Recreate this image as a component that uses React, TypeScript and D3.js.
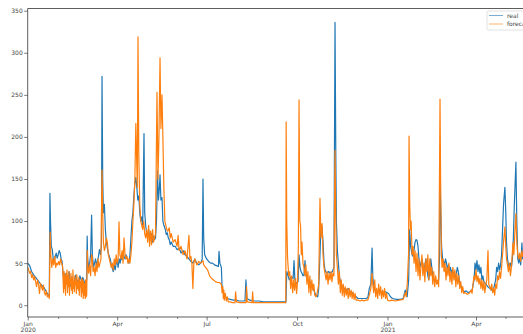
import { useEffect, useRef } from 'react';
import * as d3 from 'd3';

// day offset from 2020-01-01, value
const realSeries: [number, number][] = [
  [0, 50], [2, 47], [4, 40], [6, 36], [8, 33], [10, 30], [12, 27], [14, 24], [16, 22], [18, 18], [20, 14], [21.5, 11], [22, 12],
  [22.6, 133], [23.2, 100], [24, 70], [25, 66], [26, 55], [27, 52], [28, 58], [29, 62], [30, 56], [31, 60], [32, 65], [33, 62],
  [34, 55], [35, 52], [36, 36], [37, 30], [38, 38], [39, 28], [40, 35], [41, 25], [42, 40], [43, 30], [44, 22], [45, 34],
  [46, 28], [47, 20], [48, 32], [49, 36], [50, 26], [51, 30], [52, 22], [53, 35], [54, 32], [55, 28], [56, 33], [57, 30],
  [58, 26], [59, 28], [60, 30], [60.5, 82], [61, 55], [62, 45], [63, 50], [64, 60], [65, 107], [65.8, 60], [67, 45], [68, 50],
  [69, 55], [70, 48], [71, 52], [72, 58], [73, 66], [74, 60], [75, 70], [75.6, 272], [76.3, 150], [77, 110], [78, 120],
  [79, 90], [80, 75], [81, 68], [82, 62], [83, 58], [84, 55], [85, 48], [86, 44], [87, 40], [88, 48], [89, 42], [90, 50],
  [91, 52], [92, 45], [93, 55], [94, 50], [95, 58], [96, 54], [97, 62], [98, 58], [99, 55], [100, 60], [101, 56], [102, 52],
  [103, 50], [104, 60], [105, 80], [106, 100], [107, 110], [108, 130], [109, 145], [110, 152], [111, 140], [112, 125],
  [113, 130], [114, 110], [115, 100], [116, 105], [117, 95], [118.3, 204], [119, 110], [120, 95], [121, 85], [122, 82],
  [123, 90], [124, 80], [125, 78], [126, 85], [127, 75], [128, 82], [129, 78], [130, 80], [131, 100], [132, 160], [133, 125],
  [134, 140], [134.6, 155], [135.5, 125], [136.6, 128], [137.5, 100], [138.5, 95], [140, 90], [141, 84], [142, 86], [143, 80],
  [144, 78], [145, 72], [146, 75], [148, 70], [150, 70], [152, 66], [154, 68], [156, 62], [158, 65], [160, 60], [162, 58],
  [164, 55], [166, 52], [168, 50], [170, 55], [172, 50], [174, 48], [176, 50], [177.5, 55], [178.3, 150], [179, 80], [180, 60],
  [182, 55], [184, 52], [186, 50], [188, 50], [190, 48], [192, 47], [194, 46], [194.6, 64], [195.5, 50], [197, 45], [197.7, 22],
  [199, 15], [201, 10], [203, 8], [206, 7], [209, 6], [212, 6], [215, 5], [218, 5], [221, 5], [222, 30], [223, 8], [226, 6],
  [230, 5], [235, 5], [240, 4], [245, 4], [250, 4], [255, 4], [260, 4], [262.7, 4], [263.5, 40], [265, 35], [266, 30],
  [268, 34], [270, 32], [270.9, 53], [271.8, 30], [273, 26], [275, 28], [276, 60], [277, 45], [278, 40], [279, 38], [280, 35],
  [281, 36], [282.1, 53], [283, 35], [285, 30], [287, 28], [289, 25], [291, 18], [293, 12], [295, 10], [296, 20], [297.3, 60],
  [298.3, 96], [299.4, 93], [300.4, 75], [301.4, 50], [302.4, 42], [304, 38], [306, 40], [308, 38], [310, 40], [311.5, 45],
  [312.6, 336], [313.4, 180], [314, 100], [315, 65], [316, 50], [317, 35], [318, 28], [320, 22], [322, 20], [324, 18],
  [326, 20], [328, 16], [330, 15], [332, 12], [334, 10], [336, 8], [338, 8], [340, 8], [342, 8], [344, 8], [346, 9],
  [347.5, 20], [349, 25], [350.3, 68], [351, 35], [352, 20], [355, 16], [358, 17], [361, 15], [364, 16], [367, 14], [369, 10],
  [371, 8], [375, 7], [379, 7], [382, 8], [384, 18], [386, 10], [387.5, 30], [388.5, 90], [389.5, 70], [391, 60], [392, 58],
  [393, 66], [394, 75], [395, 78], [396, 77], [397, 70], [398, 55], [399, 45], [400, 50], [401, 55], [402, 45], [403, 40],
  [404, 48], [405, 55], [406, 45], [407, 35], [408, 30], [409, 40], [410, 55], [411, 45], [412, 35], [413, 30], [414, 28],
  [415, 30], [416, 28], [417, 26], [418, 30], [419, 60], [419.4, 150], [420, 120], [421, 70], [422, 55], [423, 52], [424, 48],
  [425, 55], [426, 50], [427, 42], [428, 48], [429, 40], [430, 45], [431, 38], [432, 42], [433, 35], [434, 40], [435, 30],
  [436, 38], [437, 45], [438, 40], [439, 30], [440, 25], [441, 22], [442, 18], [444, 16], [446, 17], [448, 15], [450, 16],
  [452, 18], [454, 30], [455, 50], [456, 42], [457, 53], [458, 40], [459, 48], [460, 38], [461, 45], [462, 30], [463, 35],
  [464, 28], [466, 25], [468, 22], [470, 20], [472, 18], [474, 20], [476, 30], [477, 45], [478, 40], [479, 50], [480, 42],
  [481, 48], [482, 60], [483, 90], [484, 120], [485.4, 140], [486.3, 110], [487, 75], [488, 55], [489, 48], [490, 45],
  [491, 50], [492, 45], [493, 55], [494, 80], [495, 120], [496.6, 170], [497.5, 100], [498.5, 55], [499.5, 50], [500.5, 58],
  [501.5, 48], [502.7, 74], [503.5, 55], [505, 60], [507, 55],
];

const forecastSeries: [number, number][] = [
  [0, 45], [1, 42], [2, 38], [3, 40], [4, 33], [5, 36], [6, 30], [7, 34], [8, 28], [9, 22], [10, 30], [11, 25], [12, 14],
  [13, 26], [14, 22], [15, 18], [16, 24], [17, 15], [18, 12], [19, 17], [20, 10], [21, 12], [22, 8], [22.8, 87], [23.5, 60],
  [24.5, 45], [25.5, 55], [26.5, 48], [27.5, 58], [28.5, 45], [29.5, 50], [30.5, 48], [31.5, 52], [32.5, 48], [33.5, 55],
  [34.5, 50], [35.5, 46], [36, 30], [36.5, 15], [37, 40], [37.5, 20], [38, 35], [38.5, 12], [39, 38], [39.5, 25], [40, 42],
  [40.5, 15], [41, 35], [41.5, 22], [42, 40], [42.5, 12], [43, 30], [43.5, 25], [44, 38], [44.5, 18], [45, 32], [45.5, 14],
  [46, 42], [46.5, 20], [47, 28], [47.5, 16], [48, 35], [48.5, 24], [49, 30], [49.5, 14], [50, 36], [50.5, 20], [51, 28],
  [51.5, 18], [52, 33], [52.5, 12], [53, 30], [53.5, 22], [54, 28], [54.5, 10], [55, 32], [55.5, 15], [56, 30], [56.5, 8],
  [57, 28], [57.5, 12], [58, 25], [58.5, 8], [59, 30], [59.5, 10], [60, 12], [60.6, 65], [61.2, 45], [62, 38], [63, 48],
  [64, 35], [65, 60], [65.6, 58], [66.5, 40], [67.5, 45], [68.5, 35], [69.5, 50], [70.5, 40], [71.5, 55], [72.5, 45],
  [73.5, 50], [74.5, 55], [75.6, 161], [76.3, 110], [77, 75], [78, 65], [79, 70], [80, 80], [81, 75], [82, 60], [83, 55],
  [84, 50], [85, 45], [86, 50], [87, 42], [88, 55], [89, 48], [90, 60], [91, 50], [92, 55], [92.9, 99], [93.8, 60], [95, 55],
  [96, 65], [97, 50], [98, 80], [99, 60], [100, 55], [101, 58], [102, 50], [103, 55], [104, 50], [105, 60], [106, 75],
  [107, 100], [108, 120], [109, 150], [110, 216], [110.7, 180], [111.5, 140], [112.2, 319], [113, 180], [114, 120], [115, 100],
  [116, 95], [117, 90], [118, 100], [119, 85], [120, 80], [121, 90], [122, 75], [123, 95], [124, 70], [125, 88], [126, 72],
  [127, 90], [128, 75], [129, 80], [130, 85], [131.5, 253], [132.5, 150], [133.5, 200], [134.6, 294], [135.5, 210],
  [136.6, 250], [137.5, 200], [138.5, 140], [139.5, 100], [140.5, 95], [141.5, 90], [142.5, 88], [144, 92], [145, 80],
  [146, 85], [148, 75], [150, 78], [152, 70], [153, 83], [154, 65], [156, 70], [158, 60], [160, 65], [162, 55], [164, 83],
  [165, 55], [166, 58], [167, 50], [168, 20], [169, 50], [170, 55], [172, 48], [174, 52], [176, 50], [178.3, 53], [179, 48],
  [181, 45], [183, 42], [185, 35], [187, 32], [189, 30], [191, 28], [193, 27], [195, 27], [197, 25], [197.7, 15], [198.5, 22],
  [199, 8], [199.5, 18], [200, 6], [201, 14], [202, 5], [203, 10], [204, 4], [206, 4], [208, 3], [210.8, 3], [211.5, 16],
  [212.3, 4], [216, 3], [220, 3], [222, 3], [222.6, 22], [223.3, 4], [228.2, 3], [228.8, 16], [229.5, 3], [235, 3], [240, 3],
  [245, 3], [250, 3], [255, 3], [260, 3], [262.5, 3], [262.9, 218], [263.5, 100], [264.3, 57], [265.5, 35], [266.5, 40],
  [267.5, 20], [268.5, 35], [269.5, 15], [270.5, 30], [271.5, 18], [272.5, 32], [273.5, 14], [274.5, 28], [275.3, 70],
  [276, 244], [276.8, 100], [277.5, 95], [278.3, 60], [279, 75], [280, 50], [281, 45], [282, 35], [283, 48], [284, 25],
  [285, 40], [286, 15], [287, 35], [288, 12], [289, 30], [290, 18], [291, 25], [292, 12], [293, 10], [294, 12], [295, 18],
  [296, 25], [297.3, 127], [298.3, 80], [299.4, 97], [300.4, 60], [301.4, 45], [302.4, 38], [303.5, 30], [304.5, 40],
  [305.5, 25], [306.5, 38], [307.5, 30], [308.5, 40], [309.5, 28], [310.5, 38], [311.5, 35], [312.6, 184], [313.4, 100],
  [314, 60], [315, 45], [316, 25], [317, 40], [318, 15], [319, 30], [320, 12], [321, 25], [322, 10], [323, 22], [324, 12],
  [325, 20], [326, 8], [327, 20], [328, 10], [329, 18], [330, 8], [331, 16], [332, 7], [333, 14], [334, 6], [336, 6], [338, 5],
  [340, 6], [342, 5], [344, 6], [346, 6], [347.5, 12], [349, 20], [350.3, 38], [351, 25], [352, 15], [353, 30], [354, 10],
  [355, 20], [356, 8], [357, 25], [358, 12], [359, 22], [360, 8], [361, 18], [362, 10], [363, 20], [364, 8], [365, 14], [366, 6],
  [368, 5], [370, 6], [374, 5], [378, 6], [382, 7], [384, 15], [385, 10], [386, 25], [387.4, 60], [387.9, 201], [388.6, 120],
  [389.3, 90], [390, 100], [391, 60], [392, 70], [393, 50], [394, 65], [395, 40], [396, 62], [397, 35], [398, 55], [399, 30],
  [400, 45], [401, 60], [402, 35], [403, 50], [404, 28], [405, 55], [406, 40], [407, 60], [408, 30], [409, 55], [410, 35],
  [411, 45], [412, 25], [413, 40], [414, 22], [415, 35], [416, 25], [417, 30], [418, 22], [418.9, 160], [419.4, 245],
  [420, 150], [420.8, 60], [421.5, 45], [422.5, 55], [423.5, 40], [424.5, 50], [425.5, 30], [426.5, 45], [427.5, 35],
  [428.5, 50], [429.5, 28], [430.5, 40], [431.5, 25], [432.5, 45], [433.5, 30], [434.5, 42], [435.5, 22], [436.5, 38],
  [437.5, 25], [438.5, 35], [439.5, 20], [440.5, 28], [441.5, 15], [442.5, 22], [443.5, 14], [445, 15], [447, 13], [449, 14],
  [451, 18], [452, 14], [453, 25], [454, 35], [455, 30], [456, 42], [457, 28], [458, 35], [459, 25], [460, 32], [461, 20],
  [462, 30], [463, 18], [464, 28], [465, 15], [466, 24], [467, 30], [468.2, 65], [469, 25], [470, 22], [471, 18], [472, 25],
  [473, 15], [474, 20], [475, 12], [476, 25], [477, 20], [478, 35], [479, 30], [480, 40], [481, 32], [482, 45], [483, 60],
  [484, 75], [485.4, 93], [486.3, 70], [487, 55], [488, 48], [489, 40], [490, 50], [491, 35], [492, 45], [493.6, 74],
  [494.5, 60], [495.5, 85], [496.6, 109], [497.5, 75], [498.5, 60], [499.5, 55], [500.5, 62], [501.5, 52], [502.7, 65],
  [503.5, 58], [505, 65], [507, 60],
];

const yTicks = [0, 50, 100, 150, 200, 250, 300, 350];
const xTickDates = ['2020-01-01', '2020-04-01', '2020-07-01', '2020-10-01', '2021-01-01', '2021-04-01'];
const xTickLabels = ['Jan', 'Apr', 'Jul', 'Oct', 'Jan', 'Apr'];
const xTickYears = ['2020', '', '', '', '2021', ''];
const minorTickDates = [
  '2020-02-01', '2020-03-01', '2020-05-01', '2020-06-01', '2020-08-01', '2020-09-01',
  '2020-11-01', '2020-12-01', '2021-02-01', '2021-03-01', '2021-05-01',
];
const seriesNames = ['real', 'forecast'];
const seriesColors = ['#1f77b4', '#ff7f0e'];

const startDate = new Date(Date.UTC(2020, 0, 1));
const toDate = (day: number) => new Date(startDate.getTime() + day * 86400000);

export default function App() {
  const ref = useRef<SVGSVGElement | null>(null);

  useEffect(() => {
    if (!ref.current) return;
    document.body.style.margin = '0';
    const svg = d3.select(ref.current);
    svg.selectAll('*').remove();

    const left = 27.7, top = 8.5, bottom = 317, right = 560;
    const font = 'DejaVu Sans, sans-serif';

    const x = d3.scaleUtc()
      .domain([startDate, new Date(Date.UTC(2021, 3, 1))])
      .range([left, 476]);
    const y = d3.scaleLinear().domain([-14, 352.6]).range([bottom, top]);

    svg.append('defs').append('clipPath').attr('id', 'plot-clip')
      .append('rect').attr('x', left).attr('y', top)
      .attr('width', right - left).attr('height', bottom - top);

    // Lines
    const line = d3.line<[number, number]>()
      .x(d => x(toDate(d[0])))
      .y(d => y(d[1]));

    [realSeries, forecastSeries].forEach((s, i) => {
      svg.append('path')
        .datum(s)
        .attr('clip-path', 'url(#plot-clip)')
        .attr('fill', 'none')
        .attr('stroke', seriesColors[i])
        .attr('stroke-width', 1.2)
        .attr('stroke-linejoin', 'round')
        .attr('d', line);
    });

    // Y axis
    const yAxis = svg.append('g')
      .attr('transform', `translate(${left},0)`)
      .call(d3.axisLeft(y).tickValues(yTicks).tickSize(3.5).tickPadding(1.5));
    yAxis.select('.domain').remove();
    yAxis.selectAll('line').attr('stroke', '#444').attr('stroke-width', 0.7);
    yAxis.selectAll('text').attr('fill', '#444').style('font-size', '6px').style('font-family', font);

    // X axis (major quarters + minor months)
    const xMajor = xTickDates.map(d => new Date(d + 'T00:00:00Z'));
    const xAxis = svg.append('g')
      .attr('transform', `translate(0,${bottom})`)
      .call(d3.axisBottom(x).tickValues(xMajor).tickSize(3.5).tickPadding(1.5)
        .tickFormat((_, i) => xTickLabels[i]));
    xAxis.select('.domain').remove();
    xAxis.selectAll('line').attr('stroke', '#444').attr('stroke-width', 0.7);
    xAxis.selectAll('text').attr('fill', '#444').style('font-size', '6px').style('font-family', font);
    xAxis.selectAll<SVGGElement, Date>('.tick').each(function (_, i) {
      if (!xTickYears[i]) return;
      d3.select(this).append('text')
        .attr('y', 10.5)
        .attr('dy', '0.71em')
        .attr('text-anchor', 'middle')
        .attr('fill', '#444')
        .style('font-size', '6px')
        .style('font-family', font)
        .text(xTickYears[i]);
    });

    svg.append('g')
      .attr('transform', `translate(0,${bottom})`)
      .call(d3.axisBottom(x).tickValues(minorTickDates.map(d => new Date(d + 'T00:00:00Z')))
        .tickSize(2).tickFormat(() => ''))
      .call(g => g.select('.domain').remove())
      .selectAll('line').attr('stroke', '#444').attr('stroke-width', 0.6);

    // Spines
    const spines = svg.append('g').attr('stroke', '#333').attr('stroke-width', 0.8).attr('fill', 'none');
    spines.append('line').attr('x1', left).attr('x2', left).attr('y1', top).attr('y2', bottom);
    spines.append('line').attr('x1', left).attr('x2', right).attr('y1', bottom).attr('y2', bottom);
    spines.append('line').attr('x1', left).attr('x2', right).attr('y1', top).attr('y2', top);

    // Legend
    const legend = svg.append('g').attr('transform', 'translate(487,11)');
    legend.append('rect')
      .attr('width', 60).attr('height', 19).attr('rx', 1.5)
      .attr('fill', 'white').attr('fill-opacity', 0.8)
      .attr('stroke', '#ccc').attr('stroke-width', 0.6);
    seriesNames.forEach((name, i) => {
      const row = legend.append('g').attr('transform', `translate(2,${4.5 + i * 8.5})`);
      row.append('line')
        .attr('x1', 0).attr('x2', 14).attr('y1', 0).attr('y2', 0)
        .attr('stroke', seriesColors[i]).attr('stroke-width', 1).attr('stroke-opacity', 0.6);
      row.append('text')
        .attr('x', 18).attr('y', 2)
        .attr('fill', '#444')
        .style('font-size', '6px')
        .style('font-family', font)
        .text(name);
    });
  }, []);

  return <svg ref={ref} width={523} height={334} style={{ display: 'block' }} />;
}
